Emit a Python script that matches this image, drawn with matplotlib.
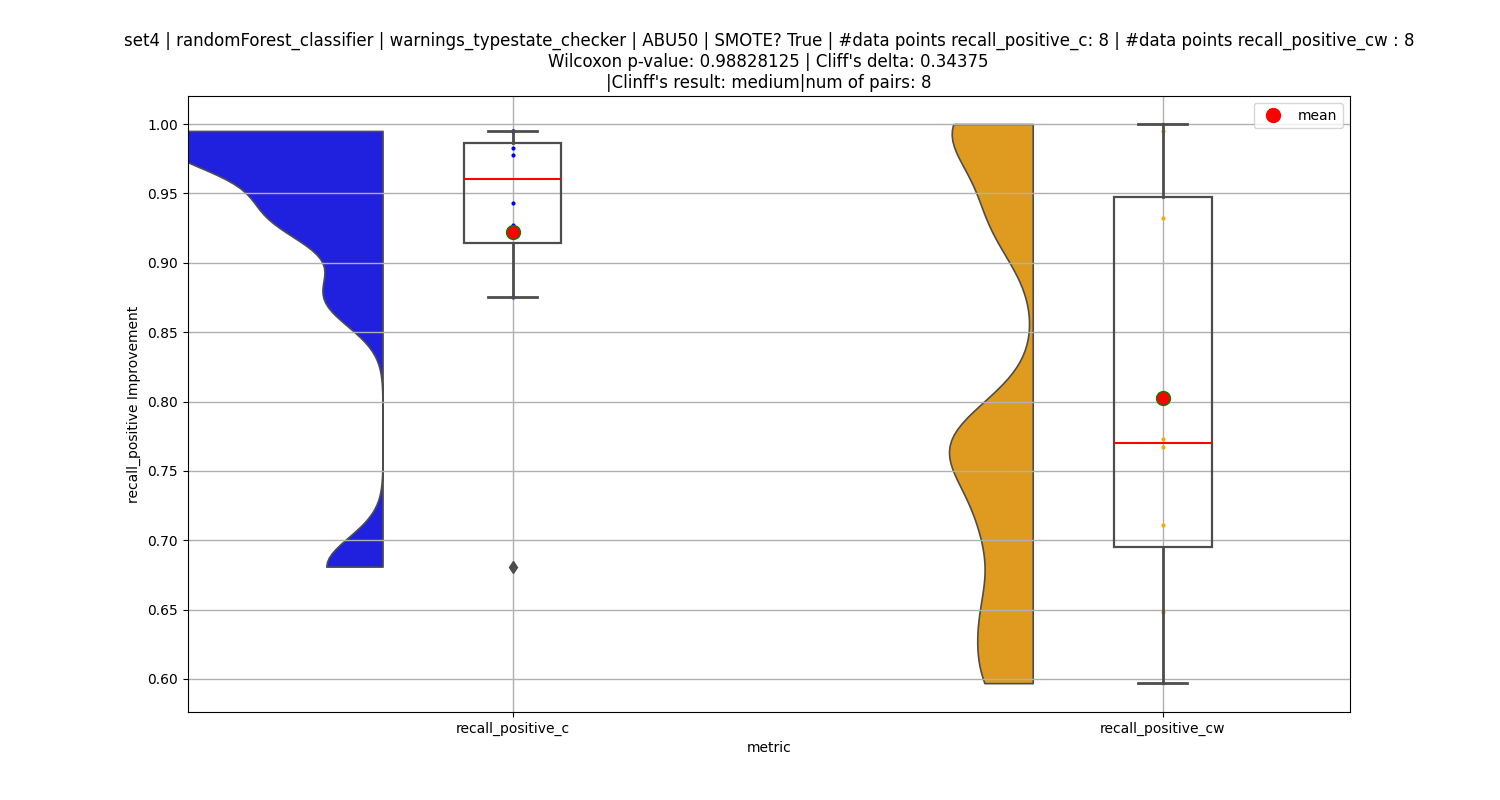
import numpy as np
import matplotlib
matplotlib.use("Agg")
import matplotlib.pyplot as plt
from matplotlib.lines import Line2D

categories = ["recall_positive_c", "recall_positive_cw"]
c_vals = [0.681, 0.875, 0.927, 0.943, 0.978, 0.983, 0.995, 0.995]
cw_vals = [0.597, 0.648, 0.711, 0.767, 0.773, 0.932, 0.995, 1.000]
series = [c_vals, cw_vals]
fill_colors = ["#2020df", "#df9b20"]
point_colors = ["blue", "orange"]

title = ("set4 | randomForest_classifier | warnings_typestate_checker | ABU50 | SMOTE? True | "
         "#data points recall_positive_c: 8 | #data points recall_positive_cw : 8\n"
         "Wilcoxon p-value: 0.98828125 | Cliff's delta: 0.34375\n"
         "|Clinff's result: medium|num of pairs: 8")


def kde(data, bw_factor=0.2, gridsize=100):
    d = np.asarray(data, float)
    bw = bw_factor * d.std(ddof=1)
    support = np.linspace(d.min(), d.max(), gridsize)
    dens = np.exp(-0.5 * ((support[:, None] - d[None, :]) / bw) ** 2).sum(1)
    dens /= (len(d) * bw * np.sqrt(2 * np.pi))
    return support, dens


fig, ax = plt.subplots(figsize=(15, 8), dpi=100)

kdes = [kde(s) for s in series]
width_per_density = 0.0367
offset = 0.2
for i, ((sup, dens), col) in enumerate(zip(kdes, fill_colors)):
    edge = i - offset
    ax.fill_betweenx(sup, edge - dens * width_per_density, edge,
                     facecolor=col, edgecolor="#4d4d4d", linewidth=1.2, zorder=1)

for i, (s, col) in enumerate(zip(series, point_colors)):
    ax.scatter(np.full(len(s), i), s, s=9, color=col, zorder=1.8, linewidths=0)

bp = ax.boxplot(series, positions=[0, 1], widths=0.15, patch_artist=True,
                showmeans=True, whis=1.5,
                boxprops=dict(facecolor="none", edgecolor="#4d4d4d", linewidth=1.6),
                whiskerprops=dict(color="#4d4d4d", linewidth=2.0),
                capprops=dict(color="#4d4d4d", linewidth=2.0),
                medianprops=dict(color="red", linewidth=1.5),
                meanprops=dict(marker="o", markerfacecolor="red",
                               markeredgecolor="green", markersize=10),
                flierprops=dict(marker="d", markerfacecolor="#4d4d4d",
                                markeredgecolor="#4d4d4d", markersize=6),
                zorder=2)

for m in bp["means"]:
    m.set_zorder(4)

ax.set_xlim(-0.5, 1.288)
ax.set_ylim(0.5762, 1.0202)
ax.set_xticks([0, 1])
ax.set_xticklabels(categories)
ax.set_yticks(np.arange(0.60, 1.0001, 0.05))
ax.set_yticklabels([f"{v:.2f}" for v in np.arange(0.60, 1.0001, 0.05)])
ax.grid(True, color="#b0b0b0", linewidth=1.0)
ax.set_axisbelow("line")
ax.set_xlabel("metric")
ax.set_ylabel("recall_positive Improvement")
ax.set_title(title, fontsize=12)

handle = Line2D([], [], linestyle="none", marker="o", markerfacecolor="red",
                markeredgecolor="red", markersize=10)
ax.legend([handle], ["mean"], loc="upper right")

fig.savefig("out.png", dpi=100)
